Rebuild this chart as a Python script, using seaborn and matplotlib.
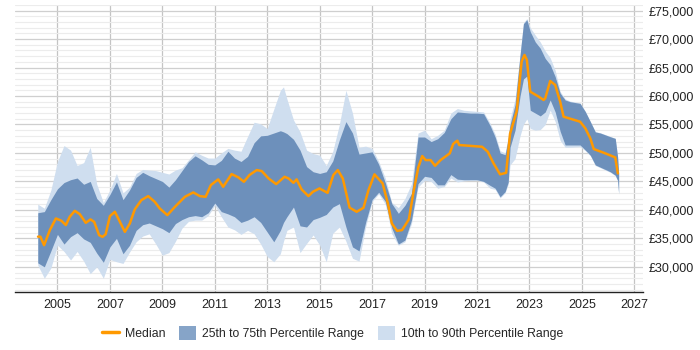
import numpy as np
import pandas as pd
import matplotlib
matplotlib.use("Agg")
import matplotlib.pyplot as plt
from matplotlib.ticker import FuncFormatter, MultipleLocator
from matplotlib.lines import Line2D
from matplotlib.patches import Patch
import seaborn as sns

# median salary (irregular sample points)
median_years = [2004.26, 2004.35, 2004.49, 2004.71, 2004.94, 2005.15, 2005.32, 2005.47, 2005.66, 2005.85,
                2006.08, 2006.26, 2006.40, 2006.59, 2006.72, 2006.84, 2007.00, 2007.19, 2007.35, 2007.57,
                2007.76, 2007.95, 2008.20, 2008.46, 2008.71, 2008.90, 2009.19, 2009.48, 2009.86, 2010.18,
                2010.43, 2010.65, 2010.85, 2011.13, 2011.32, 2011.64, 2011.90, 2012.11, 2012.32, 2012.60,
                2012.79, 2013.05, 2013.34, 2013.66, 2013.81, 2014.00, 2014.12, 2014.31, 2014.57, 2014.74,
                2014.99, 2015.30, 2015.52, 2015.69, 2015.88, 2016.14, 2016.41, 2016.67, 2016.86, 2017.09,
                2017.40, 2017.60, 2017.75, 2017.95, 2018.14, 2018.40, 2018.59, 2018.76, 2018.91, 2019.04,
                2019.23, 2019.40, 2019.61, 2019.96, 2020.09, 2020.19, 2020.25, 2020.32, 2021.19, 2021.41,
                2021.63, 2021.88, 2022.11, 2022.26, 2022.51, 2022.70, 2022.81, 2022.90, 2023.03, 2023.35,
                2023.54, 2023.60, 2023.79, 2023.98, 2024.17, 2024.30, 2024.93, 2025.13, 2025.32, 2025.45,
                2025.83, 2026.27, 2026.37]
median = [35300, 35300, 33800, 36450, 38500, 38100, 37330, 38800, 39840, 39260,
          37730, 38330, 37900, 35560, 35270, 35740, 38900, 39670, 38200, 36150,
          37620, 40100, 41720, 42420, 41420, 40260, 39080, 40540, 42300, 43070,
          42420, 42300, 44360, 45360, 44060, 46290, 45710, 44940, 46120, 47000,
          46820, 45530, 44530, 45820, 45530, 44760, 45360, 43600, 42420, 43180,
          43770, 43000, 46120, 47000, 45530, 40400, 39670, 40370, 43480, 46240,
          44650, 41130, 37620, 36320, 36450, 38330, 43480, 47470, 49460, 48750,
          48750, 47750, 48750, 49930, 51570, 51970, 52150, 51390, 51090, 50210,
          48170, 46240, 46520, 53400, 57250, 66040, 67210, 66330, 60760, 59890,
          59300, 59590, 62640, 61940, 59010, 56370, 55490, 54320, 52560, 50690,
          50040, 49220, 46410]

# percentile bands on a common year grid
band_years = [2004.25, 2004.50, 2004.75, 2005.00, 2005.25, 2005.50, 2005.75, 2006.00, 2006.25, 2006.50,
              2006.75, 2007.00, 2007.25, 2007.50, 2007.75, 2008.00, 2008.25, 2008.50, 2008.75, 2009.00,
              2009.25, 2009.50, 2009.75, 2010.00, 2010.25, 2010.50, 2010.75, 2011.00, 2011.25, 2011.50,
              2011.75, 2012.00, 2012.25, 2012.50, 2012.75, 2013.00, 2013.25, 2013.50, 2013.62, 2013.75,
              2014.00, 2014.25, 2014.50, 2014.75, 2015.00, 2015.25, 2015.50, 2015.75, 2016.00, 2016.25,
              2016.50, 2016.75, 2017.00, 2017.25, 2017.50, 2017.75, 2018.00, 2018.25, 2018.50, 2018.75,
              2019.00, 2019.25, 2019.50, 2019.75, 2020.00, 2020.25, 2020.50, 2020.75, 2021.00, 2021.25,
              2021.50, 2021.69, 2021.88, 2022.07, 2022.19, 2022.26, 2022.45, 2022.64, 2022.77, 2022.90,
              2023.03, 2023.22, 2023.41, 2023.60, 2023.79, 2023.98, 2024.17, 2024.36, 2024.55, 2024.93,
              2025.13, 2025.32, 2025.51, 2025.70, 2026.08, 2026.27, 2026.36, 2026.40]
p10 = [30300, 28000, 29800, 33800, 32700, 31200, 32700, 31000, 28800, 30000,
       28000, 31300, 30900, 30600, 32600, 34400, 35400, 35800, 34000, 32050,
       32500, 34500, 36800, 38000, 38200, 38200, 39000, 40800, 38800, 37000,
       36500, 35700, 36400, 35800, 34000, 31800, 30900, 32300, 34500, 36400,
       37000, 32500, 34100, 35600, 33800, 30900, 35900, 37000, 34500, 31500,
       31000, 37000, 41500, 42800, 41000, 35800, 33800, 34400, 37600, 44000,
       45200, 45000, 43800, 44100, 45600, 44900, 45100, 45200, 45200, 44900,
       43800, 43600, 42100, 43000, 44500, 47900, 49000, 53000, 55000, 56000,
       54300, 54000, 54100, 55000, 57500, 55500, 52200, 51000, 51000, 51100,
       50400, 49500, 47800, 47400, 46600, 46000, 45100, 42800]
p25 = [30700, 30000, 32800, 35700, 34000, 35300, 36000, 34900, 34300, 32400,
       30800, 33500, 35000, 32300, 33800, 36400, 37400, 37700, 37200, 36700,
       36000, 37600, 38300, 38800, 39000, 38800, 39500, 41200, 39700, 39300,
       38800, 37800, 38200, 38800, 37800, 36100, 34400, 36400, 37800, 38800,
       40500, 37200, 37000, 38300, 38700, 39200, 40500, 41100, 37000, 33500,
       32800, 37800, 41800, 43100, 41500, 36800, 34000, 34700, 38200, 44600,
       45900, 45700, 44400, 44400, 46200, 45400, 45300, 45300, 45300, 45000,
       44300, 43800, 42300, 43200, 44900, 51000, 54000, 60000, 63000, 63500,
       57500, 57000, 56500, 57200, 59300, 57200, 53800, 51400, 51400, 51400,
       50500, 49600, 47900, 47500, 46700, 46100, 45200, 42900]
p75 = [39500, 39700, 41800, 43700, 44800, 45300, 45600, 44500, 45000, 42000,
       40800, 42700, 44900, 41800, 43500, 45700, 46600, 46000, 45500, 45000,
       44000, 45300, 46900, 48500, 49500, 48800, 48000, 47900, 48700, 50300,
       49100, 48500, 49400, 51800, 53000, 53100, 53500, 53900, 53700, 53400,
       52400, 50500, 47600, 46700, 46400, 46700, 48600, 52300, 55500, 53500,
       49800, 50000, 50200, 48000, 44800, 41100, 39400, 40800, 42900, 52800,
       52800, 52000, 52500, 53600, 56000, 57200, 57100, 57000, 57000, 56900,
       54800, 52800, 50000, 49700, 52500, 55000, 58500, 67200, 72700, 73400,
       71300, 69500, 68400, 66600, 65500, 63400, 60500, 59300, 59000, 58700,
       57250, 55500, 53700, 53500, 52850, 52550, 49300, 46400]
p90 = [41000, 40300, 43500, 48500, 51300, 50500, 47800, 48300, 51000, 44500,
       41300, 43500, 46400, 43000, 44000, 46400, 47100, 47000, 46900, 46600,
       46300, 47000, 47400, 48800, 50200, 49600, 49100, 49100, 50000, 50800,
       50500, 50300, 52900, 55400, 55100, 54300, 57700, 61000, 61600, 59500,
       55800, 53700, 50500, 49900, 49600, 47800, 50300, 55000, 61000, 57000,
       51000, 51200, 50800, 48500, 45600, 41300, 40400, 42000, 44600, 53500,
       54000, 52500, 53100, 54000, 57000, 57800, 57500, 57400, 57300, 57200,
       55200, 53300, 50400, 50000, 53000, 56000, 59500, 67300, 72900, 73600,
       72000, 70700, 69500, 67900, 66700, 64500, 60800, 59500, 59100, 58800,
       57300, 55500, 53750, 53550, 52900, 52600, 49400, 46500]

x_ticks = [2005, 2007, 2009, 2011, 2013, 2015, 2017, 2019, 2021, 2023, 2025, 2027]
y_ticks = [30000, 35000, 40000, 45000, 50000, 55000, 60000, 65000, 70000, 75000]

ORANGE = "#ff9900"
DARK = "#6d90bb"
LIGHT = "#cfdeef"


def main():
    sns.set_style("white")
    plt.rcParams["font.family"] = ["Liberation Sans", "DejaVu Sans"]

    fig = plt.figure(figsize=(7, 3.5), dpi=100)
    ax = fig.add_axes([0.021, 0.166, 0.898, 0.820])

    # bands
    ax.fill_between(band_years, p10, p90, color=LIGHT, linewidth=0, zorder=2)
    ax.fill_between(band_years, p25, p75, color=DARK, linewidth=0, zorder=3)

    df = pd.DataFrame({"year": median_years, "median": median})
    sns.lineplot(data=df, x="year", y="median", color=ORANGE, linewidth=1.8,
                 ax=ax, zorder=4, legend=False)

    ax.set_xlim(2003.37, 2027.34)
    ax.set_ylim(25600, 76000)
    ax.set_xticks(x_ticks)
    ax.set_yticks(y_ticks)
    ax.yaxis.set_minor_locator(MultipleLocator(1000))
    ax.yaxis.set_major_formatter(FuncFormatter(lambda v, p: "£{:,.0f}".format(v)))
    ax.yaxis.tick_right()
    ax.set_xlabel("")
    ax.set_ylabel("")

    ax.grid(axis="y", which="major", color="#cfcfcf", linewidth=0.9, zorder=0)
    ax.grid(axis="y", which="minor", color="#ececec", linewidth=0.8, zorder=0)
    ax.grid(axis="x", which="major", color="#c4c4c4", linewidth=0.9, zorder=0)
    ax.set_axisbelow(True)

    for side in ["top", "left", "right"]:
        ax.spines[side].set_visible(False)
    ax.spines["bottom"].set_color("#222222")
    ax.spines["bottom"].set_linewidth(1.0)

    ax.tick_params(axis="both", which="both", length=0, labelsize=9, colors="#222222")
    ax.tick_params(axis="y", pad=4)
    ax.tick_params(axis="x", pad=5)

    handles = [
        Line2D([0], [0], color=ORANGE, linewidth=2.5),
        Patch(facecolor="#86a4c8", edgecolor="none"),
        Patch(facecolor=LIGHT, edgecolor="none"),
    ]
    labels = ["Median", "25th to 75th Percentile Range", "10th to 90th Percentile Range"]
    fig.legend(handles, labels, loc="center", bbox_to_anchor=(0.475, 0.048), ncol=3,
               frameon=False, fontsize=8.8, handlelength=1.4, handleheight=1.3,
               handletextpad=0.5, columnspacing=1.1)

    fig.savefig("out.png", dpi=100)


if __name__ == "__main__":
    main()
